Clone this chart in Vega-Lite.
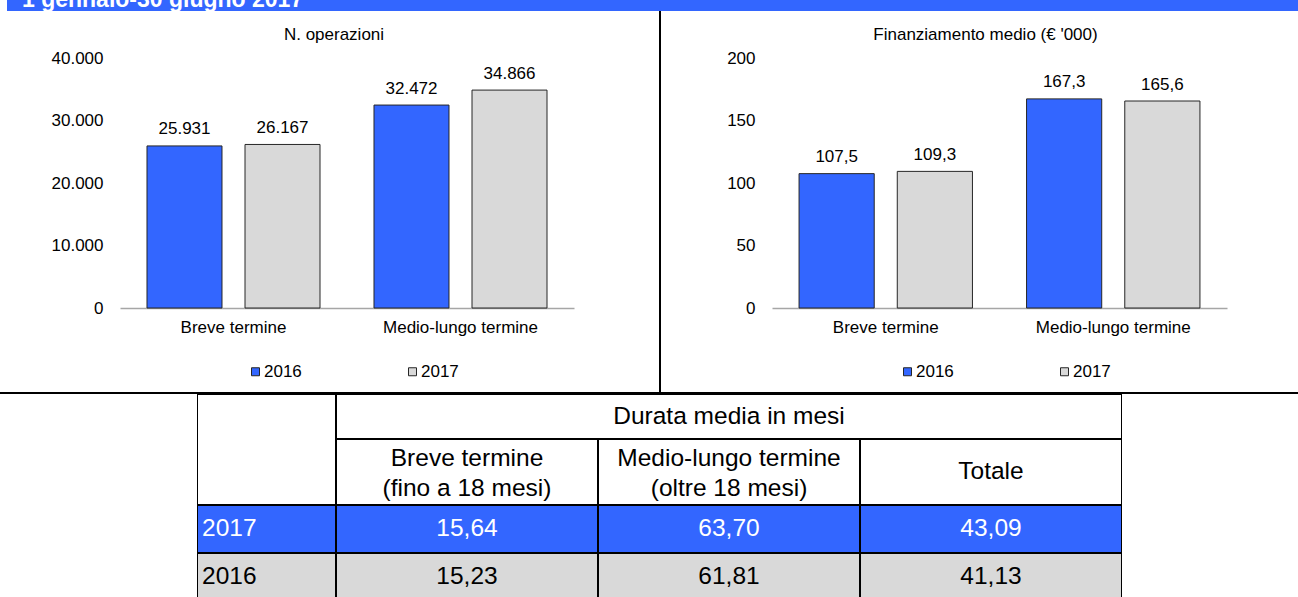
{
  "$schema": "https://vega.github.io/schema/vega-lite/v6.json",
  "padding": 0,
  "autosize": {"type": "pad"},
  "background": "#ffffff",
  "config": {
    "font": "Liberation Sans",
    "view": {"stroke": null},
    "locale": {"number": {"decimal": ",", "thousands": ".", "grouping": [3], "currency": ["€", ""]}},
    "axis": {"labelFont": "Liberation Sans", "labelFontSize": 17, "labelColor": "#000000", "title": null, "ticks": false, "tickSize": 0, "grid": false},
    "legend": {"orient": "none", "legendX": 127, "legendY": 352, "direction": "horizontal", "title": null, "symbolType": "square", "symbolSize": 64, "symbolStrokeWidth": 1, "symbolStrokeColor": "#262626", "labelFont": "Liberation Sans", "labelFontSize": 17, "labelColor": "#000000", "labelOffset": 0, "columnPadding": 102, "padding": 0}
  },
  "datasets": {
    "ops": [
      {"termine": "Breve termine", "anno": "2016", "valore": 25931},
      {"termine": "Breve termine", "anno": "2017", "valore": 26167},
      {"termine": "Medio-lungo termine", "anno": "2016", "valore": 32472},
      {"termine": "Medio-lungo termine", "anno": "2017", "valore": 34866}
    ],
    "fin": [
      {"termine": "Breve termine", "anno": "2016", "valore": 107.5},
      {"termine": "Breve termine", "anno": "2017", "valore": 109.3},
      {"termine": "Medio-lungo termine", "anno": "2016", "valore": 167.3},
      {"termine": "Medio-lungo termine", "anno": "2017", "valore": 165.6}
    ],
    "intestazioni": [
      {"col": "Breve", "label": ["Breve termine", "(fino a 18 mesi)"]},
      {"col": "Medio", "label": ["Medio-lungo termine", "(oltre 18 mesi)"]},
      {"col": "Totale", "label": "Totale"}
    ],
    "anni": [{"anno": "2017"}, {"anno": "2016"}],
    "durata": [
      {"anno": "2017", "col": "Breve", "mesi": 15.64},
      {"anno": "2017", "col": "Medio", "mesi": 63.70},
      {"anno": "2017", "col": "Totale", "mesi": 43.09},
      {"anno": "2016", "col": "Breve", "mesi": 15.23},
      {"anno": "2016", "col": "Medio", "mesi": 61.81},
      {"anno": "2016", "col": "Totale", "mesi": 41.13}
    ]
  },
  "data": {"values": [{}]},
  "resolve": {"scale": {"color": "independent", "xOffset": "independent"}, "legend": {"color": "independent"}},
  "spacing": 0,
  "vconcat": [
    {
      "spacing": 0,
      "bounds": "flush",
      "hconcat": [
        {"width": 7, "height": 11, "mark": {"type": "rect", "opacity": 0}, "encoding": {}},
        {
          "width": 1291, "height": 11,
          "layer": [
            {"mark": {"type": "rect", "fill": "#3366ff"}, "encoding": {}},
            {"mark": {"type": "text", "text": "1 gennaio-30 giugno 2017", "font": "Liberation Sans", "fontSize": 23, "fontWeight": "bold", "color": "#ffffff", "align": "left", "baseline": "alphabetic", "clip": true},
             "encoding": {"x": {"value": 15}, "y": {"value": 7}}}
          ]
        }
      ]
    },
    {
      "spacing": 0,
      "bounds": "flush",
      "resolve": {"scale": {"color": "independent", "xOffset": "independent"}, "legend": {"color": "independent"}},
      "hconcat": [
        {"width": 120, "height": 381, "mark": {"type": "rect", "opacity": 0}, "encoding": {}},
        {
          "width": 454, "height": 381,
          "data": {"name": "ops"},
          "title": {"text": "N. operazioni", "font": "Liberation Sans", "fontSize": 17, "fontWeight": "normal", "color": "#000000", "anchor": "middle", "frame": "group", "baseline": "alphabetic", "offset": -46, "dx": -13},
          "encoding": {
            "x": {"field": "termine", "type": "nominal", "sort": null, "scale": {"paddingInner": 0, "paddingOuter": 0}, "axis": {"labelAngle": 0, "domainColor": "#a6a6a6", "domainWidth": 1.5, "labelPadding": 11, "offset": -84}},
            "xOffset": {"field": "anno", "type": "nominal", "sort": null, "scale": {"paddingInner": 0.2347, "paddingOuter": 0.2755}},
            "y": {"field": "valore", "type": "quantitative", "scale": {"domain": [-13440, 47520], "nice": false, "zero": false}, "axis": {"domain": false, "values": [0, 10000, 20000, 30000, 40000], "format": ",d", "labelPadding": 17}}
          },
          "layer": [
            {"mark": {"type": "bar", "stroke": "#262626", "strokeWidth": 1},
             "encoding": {"y2": {"datum": 0}, "color": {"field": "anno", "type": "nominal", "scale": {"domain": ["2016", "2017"], "range": ["#3366ff", "#d9d9d9"]},
               "legend": {"encode": {"symbols": {"update": {"stroke": {"value": "#262626"}, "strokeWidth": {"value": 1}}}}}}}},
            {"mark": {"type": "text", "baseline": "alphabetic", "dy": -11.5, "fontSize": 17, "color": "#000000"},
             "encoding": {"text": {"field": "valore", "type": "quantitative", "format": ",d"}}}
          ]
        },
        {"width": 85, "height": 381, "mark": {"type": "rect", "opacity": 0}, "encoding": {}},
        {"width": 2, "height": 381, "mark": {"type": "rect", "fill": "#000000"}, "encoding": {}},
        {"width": 111, "height": 381, "mark": {"type": "rect", "opacity": 0}, "encoding": {}},
        {
          "width": 455, "height": 381,
          "data": {"name": "fin"},
          "title": {"text": "Finanziamento medio (€ '000)", "font": "Liberation Sans", "fontSize": 17, "fontWeight": "normal", "color": "#000000", "anchor": "middle", "frame": "group", "baseline": "alphabetic", "offset": -46, "dx": -14},
          "encoding": {
            "x": {"field": "termine", "type": "nominal", "sort": null, "scale": {"paddingInner": 0, "paddingOuter": 0}, "axis": {"labelAngle": 0, "domainColor": "#a6a6a6", "domainWidth": 1.5, "labelPadding": 11, "offset": -84}},
            "xOffset": {"field": "anno", "type": "nominal", "sort": null, "scale": {"paddingInner": 0.2347, "paddingOuter": 0.2755}},
            "y": {"field": "valore", "type": "quantitative", "scale": {"domain": [-67.2, 237.6], "nice": false, "zero": false}, "axis": {"domain": false, "values": [0, 50, 100, 150, 200], "format": "d", "labelPadding": 17}}
          },
          "layer": [
            {"mark": {"type": "bar", "stroke": "#262626", "strokeWidth": 1},
             "encoding": {"y2": {"datum": 0}, "color": {"field": "anno", "type": "nominal", "scale": {"domain": ["2016", "2017"], "range": ["#3366ff", "#d9d9d9"]},
               "legend": {"encode": {"symbols": {"update": {"stroke": {"value": "#262626"}, "strokeWidth": {"value": 1}}}}}}}},
            {"mark": {"type": "text", "baseline": "alphabetic", "dy": -11.5, "fontSize": 17, "color": "#000000"},
             "encoding": {"text": {"field": "valore", "type": "quantitative", "format": ".1f"}}}
          ]
        },
        {"width": 71, "height": 381, "mark": {"type": "rect", "opacity": 0}, "encoding": {}}
      ]
    },
    {"width": 1298, "height": 2, "mark": {"type": "rect", "fill": "#000000"}, "encoding": {}},
    {
      "spacing": 0,
      "bounds": "flush",
      "hconcat": [
        {"width": 197, "height": 203, "mark": {"type": "rect", "opacity": 0}, "encoding": {}},
        {
          "spacing": 0,
          "vconcat": [
            {
              "spacing": 0,
              "bounds": "flush",
              "hconcat": [
                {"width": 139, "height": 111, "mark": {"type": "rect", "fill": "#ffffff", "stroke": "#000000", "strokeWidth": 2, "clip": true}, "encoding": {}},
                {
                  "spacing": 0,
                  "bounds": "flush",
                  "vconcat": [
                    {
                      "width": 786, "height": 45,
                      "layer": [
                        {"mark": {"type": "rect", "fill": "#ffffff", "stroke": "#000000", "strokeWidth": 2, "clip": true}, "encoding": {}},
                        {"mark": {"type": "text", "text": "Durata media in mesi", "fontSize": 24.5, "color": "#000000", "align": "center", "baseline": "middle"}, "encoding": {}}
                      ]
                    },
                    {
                      "width": 786, "height": 66,
                      "data": {"name": "intestazioni"},
                      "encoding": {
                        "x": {"field": "col", "type": "nominal", "sort": null, "scale": {"paddingInner": 0, "paddingOuter": 0}, "axis": null}
                      },
                      "layer": [
                        {"mark": {"type": "rect", "fill": "#ffffff", "stroke": "#000000", "strokeWidth": 2, "clip": true}},
                        {"transform": [{"filter": "datum.col !== 'Totale'"}],
                         "mark": {"type": "text", "fontSize": 24.5, "lineHeight": 30, "dy": -13, "color": "#000000", "align": "center", "baseline": "middle", "clip": true},
                         "encoding": {"text": {"field": "label", "type": "nominal"}}},
                        {"transform": [{"filter": "datum.col === 'Totale'"}],
                         "mark": {"type": "text", "fontSize": 24.5, "color": "#000000", "align": "center", "baseline": "middle", "clip": true},
                         "encoding": {"text": {"field": "label", "type": "nominal"}}}
                      ]
                    }
                  ]
                }
              ]
            },
            {
              "spacing": 0,
              "bounds": "flush",
              "hconcat": [
                {
                  "width": 139, "height": 92,
                  "data": {"name": "anni"},
                  "encoding": {
                    "y": {"field": "anno", "type": "nominal", "sort": null, "scale": {"range": [0, 96], "paddingInner": 0, "paddingOuter": 0}, "axis": null}
                  },
                  "layer": [
                    {"mark": {"type": "rect", "stroke": "#000000", "strokeWidth": 2, "clip": true},
                     "encoding": {"fill": {"condition": {"test": "datum.anno === '2017'", "value": "#3366ff"}, "value": "#d9d9d9"}}},
                    {"mark": {"type": "text", "fontSize": 24.5, "align": "left", "baseline": "middle", "clip": true},
                     "encoding": {"x": {"value": 5}, "text": {"field": "anno", "type": "nominal"},
                       "color": {"condition": {"test": "datum.anno === '2017'", "value": "#ffffff"}, "value": "#000000"}}}
                  ]
                },
                {
                  "width": 786, "height": 92,
                  "data": {"name": "durata"},
                  "encoding": {
                    "x": {"field": "col", "type": "nominal", "sort": null, "scale": {"paddingInner": 0, "paddingOuter": 0}, "axis": null},
                    "y": {"field": "anno", "type": "nominal", "sort": null, "scale": {"range": [0, 96], "paddingInner": 0, "paddingOuter": 0}, "axis": null}
                  },
                  "layer": [
                    {"mark": {"type": "rect", "stroke": "#000000", "strokeWidth": 2, "clip": true},
                     "encoding": {"fill": {"condition": {"test": "datum.anno === '2017'", "value": "#3366ff"}, "value": "#d9d9d9"}}},
                    {"mark": {"type": "text", "fontSize": 24.5, "align": "center", "baseline": "middle", "clip": true},
                     "encoding": {"text": {"field": "mesi", "type": "quantitative", "format": ".2f"},
                       "color": {"condition": {"test": "datum.anno === '2017'", "value": "#ffffff"}, "value": "#000000"}}}
                  ]
                }
              ]
            }
          ]
        }
      ]
    }
  ]
}
